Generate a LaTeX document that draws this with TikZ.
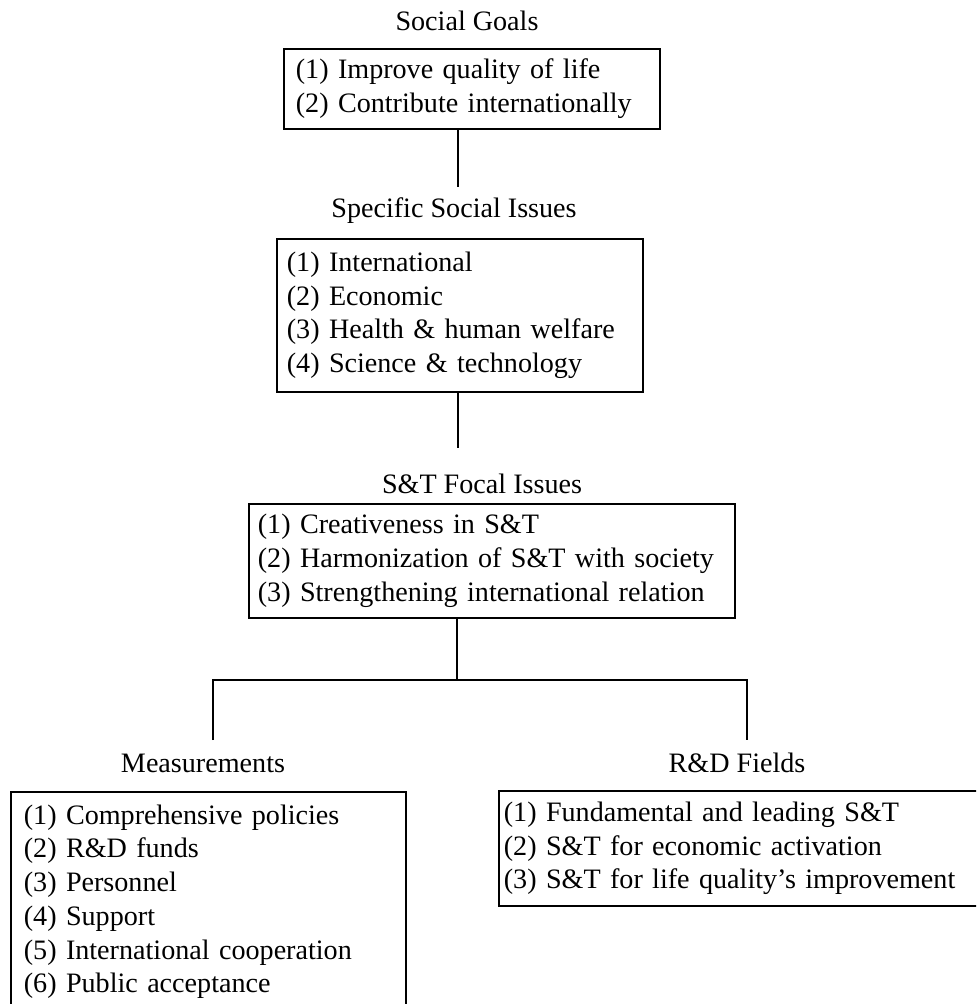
\documentclass[tikz,border=0pt]{standalone}
\usepackage{fontspec}
\setmainfont{Liberation Serif}
\usetikzlibrary{positioning}
\tikzset{
  title/.style={anchor=base, inner sep=0pt},
  listbox/.style={draw, line width=1.2pt, anchor=north west, align=left, inner ysep=0pt},
  link/.style={line width=1.1pt}
}

\begin{document}
\begin{tikzpicture}[x=0.025cm, y=-0.025cm, font=\fontsize{20}{24}\selectfont]

\useasboundingbox (0,0) rectangle (976,1004);
\clip (0,0) rectangle (976,1004);

% Boxes
\node[listbox, inner xsep=12*0.025cm, text width=352*0.025cm, minimum width=376*0.025cm, minimum height=80*0.025cm]
  (goals) at (283,48) {(1) Improve quality of life\\(2) Contribute internationally};
\node[listbox, inner xsep=10*0.025cm, text width=346*0.025cm, minimum width=366*0.025cm, minimum height=153*0.025cm]
  (issues) at (276,238) {(1) International\\(2) Economic\\(3) Health \& human welfare\\(4) Science \& technology};
\node[listbox, inner xsep=9*0.025cm, text width=468*0.025cm, minimum width=486*0.025cm, minimum height=114*0.025cm]
  (focal) at (248,503) {(1) Creativeness in S\&T\\(2) Harmonization of S\&T with society\\(3) Strengthening international relation};
\node[listbox, inner xsep=13*0.025cm, text width=369*0.025cm, minimum width=395*0.025cm, minimum height=220*0.025cm]
  (measures) at (10,791) {(1) Comprehensive policies\\(2) R\&D funds\\(3) Personnel\\(4) Support\\(5) International cooperation\\(6) Public acceptance};
\node[listbox, inner xsep=5*0.025cm, text width=482*0.025cm, minimum width=492*0.025cm, minimum height=115*0.025cm]
  (fields) at (498,790) {(1) Fundamental and leading S\&T\\(2) S\&T for economic activation\\(3) S\&T for life quality's improvement};

% Titles
\node[title] (goalsT) at (467,31) {Social Goals};
\node[title] (issuesT) at (454,218) {Specific Social Issues};
\node[title] (focalT) at (482,493) {S\&T Focal Issues};
\node[title] (measuresT) at (203,772) {Measurements};
\node[title] (fieldsT) at (737,772) {R\&D Fields};

% Connectors
\coordinate (c1) at (458,187);
\coordinate (c2) at (458,448);
\coordinate (fork) at (457,680);
\coordinate (mleg) at (213,740);
\coordinate (rleg) at (747,740);
\draw[link] (goals.south -| c1) -- (c1);
\draw[link] (issues.south -| c2) -- (c2);
\draw[link] (focal.south -| fork) -- (fork);
\draw[link] (mleg) -- (mleg |- fork) -- (rleg |- fork) -- (rleg);

\end{tikzpicture}
\end{document}
